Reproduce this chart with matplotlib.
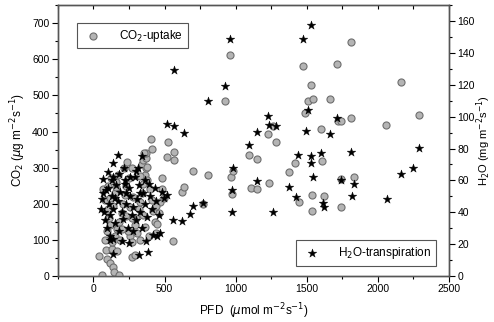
import matplotlib
matplotlib.use("Agg")
import matplotlib.pyplot as plt
from matplotlib.ticker import MultipleLocator

plt.rcParams['font.family'] = ['Liberation Sans', 'DejaVu Sans']

# CO2 uptake (left axis), PFD vs CO2
co2_pfd = [42, 92, 134, 169, 99, 120, 141, 148, 183, 63, 274, 296,
           70, 85, 100, 110, 120, 95, 80, 130, 150, 165, 180, 200, 210, 220, 230, 250,
           260, 275, 290, 300, 320, 330, 340, 350, 360, 370, 380, 400, 410, 420, 430, 440,
           450, 460, 470, 480, 493, 479, 240, 260, 310, 150, 190, 230, 140, 115, 125, 280,
           360, 390, 330, 200, 175, 215, 105, 160, 270, 350, 440,
           239, 274, 345, 352, 373, 373, 380, 408, 415, 359, 331, 162,
           521, 528, 570, 570, 563, 620, 634, 697, 803, 774, 957, 922, 964, 979, 972,
           1091, 1105, 1148, 1148, 1225, 1232, 1260, 1281, 1373, 1420, 1443, 1471, 1485,
           1507, 1528, 1535, 1535, 1542, 1598, 1605, 1619, 1661, 1711, 1718, 1739, 1739,
           1739, 1809, 1809, 1831, 2056, 2161, 2288]
co2_val = [55, 72, 75, 69, 47, 36, 25, 11, 3, 3, 53, 58,
           240, 210, 185, 160, 140, 125, 100, 95, 110, 130, 150, 175, 200, 225, 250, 270,
           110, 95, 140, 160, 185, 205, 230, 255, 280, 300, 265, 240, 210, 180, 150, 120,
           145, 175, 205, 240, 216, 271, 125, 190, 120, 230, 100, 165, 195, 215, 270, 220,
           135, 110, 100, 130, 280, 300, 250, 260, 160, 170, 195,
           315, 299, 310, 321, 327, 340, 302, 379, 351, 340, 277, 246,
           329, 371, 343, 321, 97, 232, 246, 292, 280, 199, 612, 484, 274, 291, 227,
           335, 244, 324, 241, 393, 257, 415, 371, 288, 314, 205, 581, 451,
           484, 529, 224, 180, 490, 407, 318, 221, 490, 587, 429, 429, 268,
           191, 648, 437, 274, 418, 537, 446]

# H2O transpiration (right axis), PFD vs H2O
h2o_pfd = [141, 324, 387,
           60, 75, 85, 95, 100, 110, 115, 120, 130, 140, 150, 160, 170, 180, 190, 200,
           210, 220, 230, 240, 250, 260, 270, 280, 290, 300, 310, 320, 330, 340, 350,
           360, 370, 380, 390, 400, 410, 420, 430, 440, 450, 460, 470, 120, 140, 200,
           250, 100, 130, 180, 260, 300, 55, 65, 150, 230, 330, 280, 360, 479, 521, 493,
           176, 141, 345, 317, 218, 70, 141, 225, 92,
           521, 570, 634, 570, 803, 922, 957, 979, 1091, 972, 972, 697, 774, 676, 563,
           620, 1148, 1148, 1225, 1232, 1281, 1260, 1373, 1422, 1436, 1471, 1492, 1507,
           1528, 1528, 1528, 1542, 1598, 1612, 1619, 1661, 1711, 1739, 1809, 1816, 1831,
           2063, 2161, 2246, 2288]
h2o_val = [14, 13, 15,
           48, 40, 35, 30, 55, 45, 38, 25, 50, 42, 33, 57, 47, 28, 53, 40,
           36, 60, 45, 30, 55, 50, 38, 43, 62, 35, 48, 57, 40, 30, 52,
           45, 22, 37, 58, 50, 42, 26, 55, 47, 25, 38, 27, 22.5, 23, 22,
           21, 65, 60, 64, 62, 66, 42, 52, 49, 52, 52, 28, 60, 52.5, 51, 49,
           76, 71, 75, 68, 67.5, 61, 62, 58, 54,
           95.6, 94.4, 90, 129, 110, 119, 149, 67.5, 82.5, 53.8, 40, 43.8, 45.6, 38.8, 35,
           34.4, 90.6, 59.4, 100.6, 95, 94, 40, 55.6, 49.4, 76, 149, 91, 104,
           157.5, 75, 70.6, 62, 77, 45.6, 43, 89, 99, 60, 78, 50, 58,
           48, 63.8, 67.5, 80.6]

fig = plt.figure(figsize=(4.94, 3.22), dpi=100)
ax = fig.add_axes([0.117, 0.143, 0.792, 0.841])
ax2 = ax.twinx()

ax.scatter(co2_pfd, co2_val, s=26, marker='o', facecolor='#b4b4b4',
           edgecolor='#6e6e6e', linewidths=0.8, label='CO$_2$-uptake', zorder=3)
ax2.scatter(h2o_pfd, h2o_val, s=42, marker='*', color='black',
            linewidths=0.3, label='H$_2$O-transpiration', zorder=3)

ax.set_xlim(-250, 2500)
ax.set_ylim(0, 750)
ax2.set_ylim(0, 170)

ax.xaxis.set_major_locator(MultipleLocator(500))
ax.xaxis.set_minor_locator(MultipleLocator(250))
ax.yaxis.set_major_locator(MultipleLocator(100))
ax.yaxis.set_minor_locator(MultipleLocator(50))
ax2.yaxis.set_major_locator(MultipleLocator(20))
ax2.yaxis.set_minor_locator(MultipleLocator(10))

ax.tick_params(axis='both', which='major', direction='out', length=4, width=0.8, labelsize=7.5, pad=2)
ax.tick_params(axis='both', which='minor', direction='out', length=2, width=0.8)
ax.tick_params(axis='x', top=True, which='both')
ax2.tick_params(axis='y', which='major', direction='out', length=4, width=0.8, labelsize=7.5, pad=2)
ax2.tick_params(axis='y', which='minor', direction='out', length=2, width=0.8)

# top ticks point inward
for t in ax.xaxis.get_major_ticks() + ax.xaxis.get_minor_ticks():
    t.tick2line.set_marker(3)
    t.tick2line.set_markersize(3)

for a in (ax, ax2):
    for sp in a.spines.values():
        sp.set_color('#555555')
        sp.set_linewidth(1.0)

ax.set_xlabel('PFD  ($\\mu$mol m$^{-2}$s$^{-1}$)', fontsize=8.5, labelpad=5)
ax.set_ylabel('CO$_2$ ($\\mu$g m$^{-2}$s$^{-1}$)', fontsize=8.5, labelpad=3)
ax2.set_ylabel('H$_2$O (mg m$^{-2}$s$^{-1}$)', fontsize=8, labelpad=0)

leg1 = ax.legend(loc='upper left', bbox_to_anchor=(0.049, 0.934), borderaxespad=0,
                 fontsize=8.5, fancybox=False, edgecolor='#555555', framealpha=1,
                 handletextpad=1.2, borderpad=0.4)
leg1.get_frame().set_linewidth(0.8)
leg2 = ax2.legend(loc='lower right', bbox_to_anchor=(0.967, 0.037), borderaxespad=0,
                  fontsize=8.5, fancybox=False, edgecolor='#555555', framealpha=1,
                  handletextpad=1.2, borderpad=0.4)
leg2.get_frame().set_linewidth(0.8)

fig.savefig('out.png', dpi=100)
